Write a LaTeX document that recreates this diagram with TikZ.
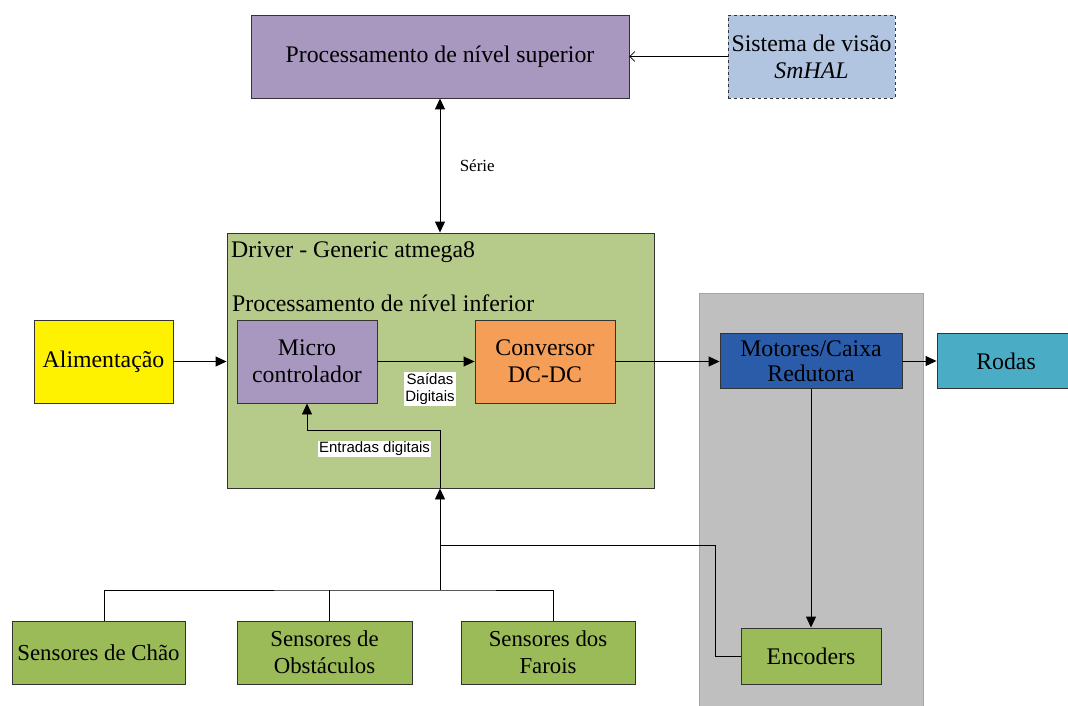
\documentclass[tikz,border=0pt]{standalone}
\usepackage{fontspec}
\setmainfont{Liberation Serif}
\newfontfamily\labelfont{Liberation Sans}
\usetikzlibrary{arrows.meta,calc}
\definecolor{lilac}{RGB}{168,152,192}
\definecolor{steel}{RGB}{177,197,224}
\definecolor{drvgreen}{RGB}{182,203,137}
\definecolor{orangebox}{RGB}{245,158,88}
\definecolor{motblue}{RGB}{42,92,170}
\definecolor{teal}{RGB}{75,172,198}
\definecolor{leaf}{RGB}{155,187,89}
\definecolor{panel}{RGB}{191,191,191}
\definecolor{paneledge}{RGB}{127,178,200}
\tikzset{
  bigtri/.tip={Triangle[length=11pt,width=10pt]},
  blk/.style={draw=black!80, line width=0.9pt, rectangle, align=center, inner sep=1pt,
    font=\fontsize{23.8}{27}\selectfont},
  sensor/.style={blk, fill=leaf, minimum height=63pt, font=\fontsize{22.8}{27}\selectfont},
  conn/.style={line width=0.9pt, -bigtri},
  wire/.style={line width=0.9pt},
  tag/.style={fill=white, inner sep=1pt, align=center, font=\labelfont\fontsize{15}{17}\selectfont}
}
\begin{document}
\begin{tikzpicture}[x=1pt,y=-1pt]
\useasboundingbox (0,0) rectangle (1068,706);

% grey panel behind the drive train
\node[draw=paneledge, fill=panel, line width=0.9pt, minimum width=224pt, minimum height=420pt, inner sep=0pt] (panel) at (811,503) {};

% upper level
\node[blk, fill=lilac, minimum width=378pt, minimum height=83pt] (top) at (440,56.5) {Processamento de nível superior};
\node[blk, fill=steel, dashed, minimum width=167pt, minimum height=83pt] (vis) at (811.5,56.5) {Sistema de visão\\\textit{SmHAL}};

% driver board
\node[blk, fill=drvgreen, minimum width=427pt, minimum height=255pt] (drv) at (440.5,360.5) {};
\node[anchor=west, inner sep=0pt, font=\fontsize{23.8}{27}\selectfont] (drvlbl) at (231,252) {Driver - Generic atmega8};
\node[anchor=west, inner sep=0pt, font=\fontsize{23.8}{27}\selectfont] (lowlbl) at (232,303) {Processamento de nível inferior};
\node[blk, fill=lilac, minimum width=140pt, minimum height=83pt] (micro) at (307,361.5) {Micro\\controlador};
\node[blk, fill=orangebox, minimum width=140pt, minimum height=83pt] (conv) at (545,361.5) {Conversor\\DC-DC};

\node[blk, fill=yellow, minimum width=139pt, minimum height=83pt] (alim) at (103.5,361.5) {Alimentação};

% drive train
\node[blk, fill=motblue, minimum width=182pt, minimum height=55pt, font=\fontsize{23.8}{25}\selectfont] (mot) at (811,361) {Motores/Caixa\\Redutora};
\node[blk, fill=teal, minimum width=140pt, minimum height=55pt] (rodas) at (1007,361) {\hspace*{-2pt}Rodas};
\node[blk, fill=leaf, minimum width=140pt, minimum height=56pt] (enc) at (811,656) {Encoders};

% sensors
\node[sensor, minimum width=173pt] (s1) at (98.5,652.5) {Sensores de Chão};
\node[sensor, minimum width=175pt] (s2) at (324.5,652.5) {Sensores de\\Obstáculos};
\node[sensor, minimum width=174pt] (s3) at (548,652.5) {Sensores dos\\Farois};

% connectors
\draw[wire, -{Straight Barb[length=5pt,width=10pt,line width=0.7pt]}] (vis.west) -- (top.east |- vis.west);
\draw[line width=0.9pt, bigtri-bigtri] (top.south) -- (drv.north -| top.south)
  node[midway, right=16pt, font=\fontsize{17}{19}\selectfont] (serie) {Série};
\draw[conn] (alim.east) -- (drv.west |- alim.east);
\draw[conn] (micro.east) -- (conv.west);
\node[tag] (saidas) at (430,389) {Saídas\\Digitais};
\draw[conn] (conv.east) -- (mot.west |- conv.east);
\draw[conn] (mot.east) -- (rodas.west);
\draw[conn] (mot.south) -- (enc.north);

% sensor bus
\coordinate (bus) at (440,590);
\coordinate (join) at (440,545);
\coordinate (d1) at ($(s1.north)+(5.5,0)$);
\coordinate (d2) at ($(s2.north)+(4.5,0)$);
\coordinate (d3) at ($(s3.north)+(5,0)$);
\draw[wire] (d1) |- (bus) -| (d3);
\draw[wire] (d2) -- (d2 |- bus);
\draw[wire] (enc.west) -| (715,545) -- (join);
\draw[conn] (bus) -- (drv.south -| bus);
\coordinate (bend) at (440,430);
\draw[conn] (drv.south -| bend) -- (bend) -| (micro.south);
\node[tag] (entradas) at (374.5,449) {Entradas digitais};
\end{tikzpicture}
\end{document}
